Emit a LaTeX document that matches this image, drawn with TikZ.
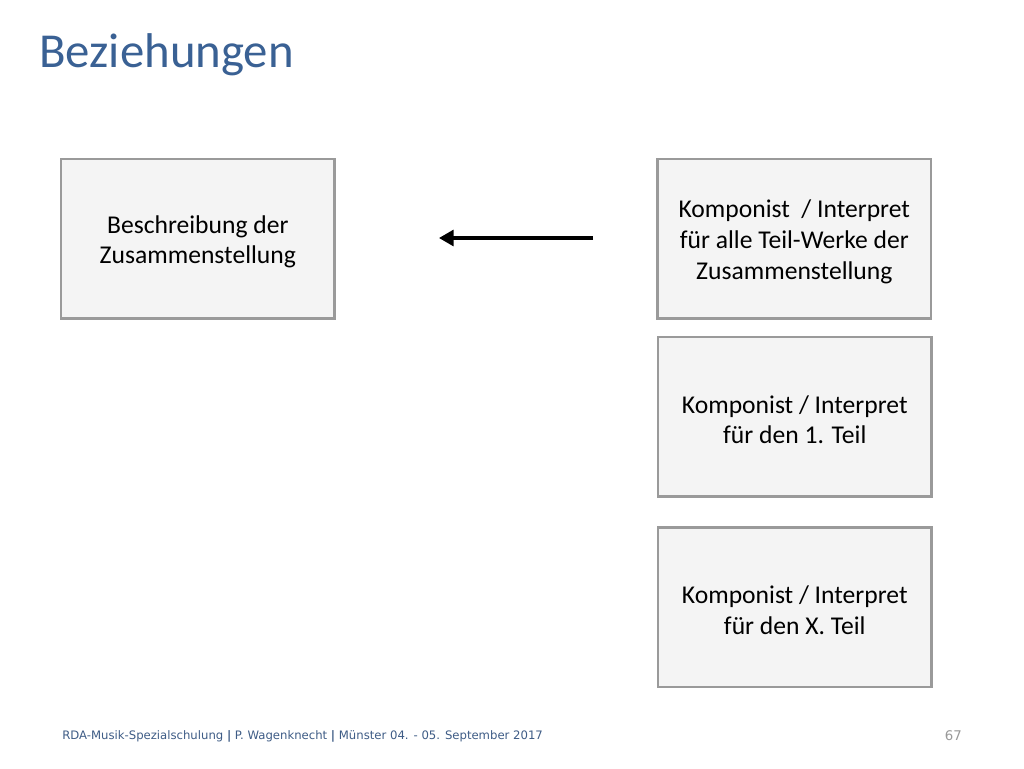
\documentclass[tikz,border=0pt]{standalone}
\usepackage{fontspec}
\setmainfont{Carlito}
\newfontfamily\footfont{DejaVu Sans}
\usetikzlibrary{arrows.meta}
\definecolor{titleblue}{HTML}{3A6194}
\definecolor{footblue}{HTML}{3E5C86}
\definecolor{boxfill}{HTML}{F4F4F4}
\definecolor{boxline}{HTML}{9A9A9A}
\begin{document}
\begin{tikzpicture}[x=0.75pt,y=-0.75pt,
  box/.style={draw=boxline,line width=1.9pt,fill=boxfill,minimum width=205.3pt,minimum height=119.8pt,inner sep=0pt},
  lbl/.style={align=center,font=\fontsize{19.2}{23}\selectfont,inner sep=0pt,yshift=-2.3pt},
  conn/.style={line width=2.3pt,-{Triangle[length=11pt,width=12pt]}}]
\useasboundingbox (0,0) rectangle (1024,768);
\fill[white] (0,0) rectangle (1024,768);
\node[anchor=base west,text=titleblue,font=\fontsize{36.6}{42}\selectfont,inner sep=0pt] (title) at (39,67) {Beziehungen};
\node[box,label={[lbl]center:{Beschreibung der\\Zusammenstellung}}] (desc) at (197.8,238.8) {};
\node[box,label={[lbl]center:{Komponist~~/ Interpret\\für alle Teil-Werke der\\Zusammenstellung}}] (all) at (794.3,238.8) {};
\node[box,label={[lbl]center:{Komponist / Interpret\\für den 1. Teil}}] (one) at (794.8,416.8) {};
\node[box,label={[lbl]center:{Komponist / Interpret\\für den X. Teil}}] (xth) at (794.8,607.3) {};
\coordinate (a1) at (593,238);
\coordinate (a2) at (439,238);
\draw[conn] (a1) -- (a2);
\node[anchor=base west,text=footblue,font=\footfont\fontsize{8.75}{10}\selectfont,inner sep=0pt] (foot) at (62,739) {RDA-Musik-Spezialschulung \textbf{|} P. Wagenknecht \textbf{|} Münster 04. - 05. September 2017};
\node[anchor=base east,text=gray!80,font=\footfont\fontsize{10}{12}\selectfont,inner sep=0pt] (page) at (962,740) {67};
\end{tikzpicture}
\end{document}
